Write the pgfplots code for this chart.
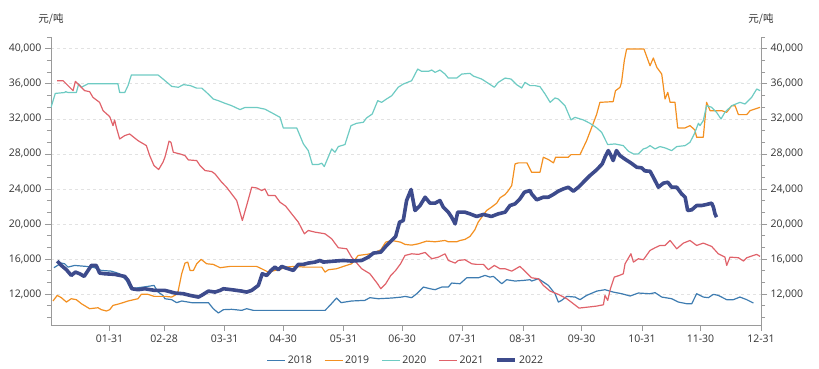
\documentclass[border=0pt]{standalone}
\usepackage{pgfplots}
\pgfplotsset{compat=1.18}
\usepackage{fontspec}
\setmainfont{Open Sans}
\newfontfamily\cjk{Noto Sans CJK SC}
\definecolor{c18}{HTML}{3E7CB1}
\definecolor{c19}{HTML}{F39021}
\definecolor{c20}{HTML}{6ECBC3}
\definecolor{c21}{HTML}{E0626A}
\definecolor{c22}{HTML}{3D4B8C}
\definecolor{axgray}{HTML}{9A9A9A}
\definecolor{labgray}{HTML}{333333}
\definecolor{gridgray}{HTML}{E2E2E2}
\begin{document}
\begin{tikzpicture}
\pgfplotsset{
  base/.style={
    scale only axis, width=710pt, height=288pt,
    xmin=0, xmax=364, ymin=8460, ymax=41340,
    ytick={12000,16000,20000,24000,28000,32000,36000,40000},
    minor ytick={9333.3,10666.7,13333.3,14666.7,17333.3,18666.7,21333.3,22666.7,25333.3,26666.7,29333.3,30666.7,33333.3,34666.7,37333.3,38666.7,41333.3},
    scaled y ticks=false,
    tick align=outside,
    major tick length=6pt, minor tick length=4pt,
    tick style={draw=axgray, line width=0.6pt},
    axis line style={draw=axgray, line width=0.8pt},
    ticklabel style={font=\fontsize{10.5}{12}\selectfont, text=labgray},
    /pgf/number format/1000 sep={,},
    /pgf/number format/assume math mode=true,
  }
}
\begin{axis}[base,
  axis x line*=bottom, axis y line*=left,
  xtick={30,58,89,119,150,180,211,242,272,303,333,364},
  xticklabels={01-31,02-28,03-31,04-30,05-31,06-30,07-31,08-31,09-30,10-31,11-30,12-31},
  ymajorgrids, grid style={dashed, draw=gridgray, line width=0.6pt},
  ylabel={\cjk 元/吨},
  every axis y label/.style={at={(rel axis cs:0,1)}, anchor=south, yshift=9pt, font=\fontsize{10.5}{12}\selectfont, text=labgray},
  legend style={at={(0.5,-0.122)}, anchor=center, draw=none, fill=none, font=\fontsize{10.5}{12}\selectfont, text=labgray, /tikz/every even column/.append style={column sep=10pt}},
  legend columns=5, legend cell align=left,
  legend image code/.code={\draw[#1] (0pt,0pt) -- (18pt,0pt);},
  line join=round,
]
\addplot[c18, line width=1.2pt] coordinates {
(1.5,15000)(5.3,15530)(7,15450)(8.7,15070)(12.1,15260)(18.1,15150)(22.4,15000)(25.8,14690)(30.9,14610)(35.2,14310)(38.6,13550)(40.8,12600)(44.6,12710)(49.7,12870)(52.8,12980)(54.9,12220)(57.4,11840)(58.4,11460)(61.9,11350)(64.4,11010)(67,11200)(72.1,11010)(80.7,11010)(83.2,10320)(85.8,9830)(88.4,10210)(92.6,10250)(97.8,10130)(100.3,10320)(103.7,10130)(109.7,10130)(122.5,10130)(140.5,10130)(143,10700)(146.4,11540)(148.7,11010)(154.1,11200)(160.9,11270)(163.5,11580)(167.8,11460)(174.7,11540)(179.8,11650)(181.5,11730)(184.9,11580)(187.5,12030)(190.9,12790)(194.3,12600)(196.9,12490)(200.3,12790)(203.7,12790)(205.4,13250)(209.7,13170)(213.1,13850)(219.1,13850)(222.5,14120)(225,13930)(226.8,14010)(231.1,13170)(233.6,13630)(237.9,13480)(242.2,13550)(245.6,13630)(246.4,13480)(249.9,13740)(255,12980)(258.4,12030)(260.1,11080)(261.8,11270)(264.4,11730)(268.7,11650)(271.2,11350)(274.6,11840)(279.8,12330)(284,12490)(288.2,12220)(292.6,12030)(296.9,11770)(301.1,12110)(307,12030)(309.7,12150)(313.1,11650)(318.2,11460)(321.6,11080)(325.9,10890)(328.5,10890)(331,12030)(334.4,11650)(337,11580)(339.6,11960)(342.1,11840)(346.4,11350)(349.8,11350)(353.2,11650)(356.7,11350)(360.1,10970)
};
\addlegendentry{2018}
\addplot[c19, line width=1.2pt] coordinates {
(1,11200)(3.2,11840)(5.3,11580)(7.9,11080)(10.4,11460)(13,11350)(15.6,10890)(19.8,10320)(24.1,10430)(25.8,10210)(28.4,10060)(30.1,10210)(31.8,10700)(35.2,10890)(39.5,11200)(44.6,11460)(46.3,11960)(49.7,11960)(52.8,11730)(58.4,11730)(61.9,11650)(64.9,12030)(67,14310)(68.7,15530)(70.1,15640)(71.3,14690)(73,14690)(74.7,15450)(77,15950)(79.8,15450)(83.2,15380)(86.7,15000)(91.8,15150)(101.2,15150)(105.4,15150)(108,14880)(111.4,14500)(114.8,14690)(118.3,14880)(120,15070)(125.1,15150)(130.2,15070)(138.8,15070)(140.5,14500)(142.2,14770)(146.4,14880)(149.9,15150)(154.1,15450)(157.5,16400)(161.8,16520)(165.3,16670)(169.1,17050)(171.6,17920)(174.7,18110)(179.2,17920)(181.5,17660)(184.9,17580)(188.3,17730)(192.6,18040)(196.9,17960)(202,18110)(203.7,17960)(208,17960)(209.7,18110)(212.2,18230)(214.8,18570)(217.3,19330)(219,20200)(223.3,21530)(225.8,21910)(228.5,22370)(230.2,22980)(232.8,23360)(234.5,23810)(236.2,24380)(237.9,26850)(239.6,26970)(244,26970)(246.4,25900)(250.7,25900)(252.4,27610)(255,27350)(257.6,26970)(258.7,27610)(265.2,27610)(266.6,27910)(271.2,27910)(274.6,29510)(277.1,30960)(279.7,32480)(281.4,33880)(288.2,33960)(289.4,35210)(291.7,35590)(292.5,36160)(293.9,38630)(295.1,39960)(304,39960)(307.1,38060)(308.8,38940)(310.6,37870)(313.1,37110)(314.8,34260)(316.2,35020)(317.4,33880)(319.9,33880)(321.3,30960)(325.1,30960)(327.6,31220)(330.1,30730)(331,29890)(334.4,29890)(336.1,33880)(337.9,32930)(343.8,32930)(346.4,32740)(349,33500)(350.7,33500)(352.4,32480)(356.7,32480)(358.4,32930)(360.9,33120)(363.5,33310)
};
\addlegendentry{2019}
\addplot[c20, line width=1.2pt] coordinates {
(0,33300)(2.2,34900)(7,35000)(7.5,35100)(8.7,35000)(13,35000)(14.2,36000)(15.6,35600)(19,36000)(34.3,36000)(35.2,35000)(37.8,35000)(39.5,35800)(41.2,37000)(54.9,37000)(57.4,36550)(61.9,35700)(65.3,35600)(67.9,35900)(71.3,35800)(74.7,35500)(77.3,35500)(79.8,35000)(83.2,34260)(85.8,34070)(89.2,33770)(92.6,33500)(96.9,33050)(99.5,33300)(105.4,33300)(109.7,33100)(113.9,32600)(117.4,32170)(119.1,30950)(126,30950)(129.4,29130)(131.9,28370)(134,26780)(137,26780)(138.8,26930)(140.1,26550)(143.9,28560)(145.6,28180)(147.3,28830)(150.7,29060)(153.8,31220)(156.7,31490)(160.1,31600)(161.8,32100)(164.7,32550)(167.5,34070)(169.5,33880)(172,34260)(174.7,34640)(178,35600)(180.6,35970)(184.9,36350)(188,37680)(190,37420)(193.5,37420)(195.2,37570)(196.9,37300)(199.4,37570)(202,37110)(203.7,36650)(208,36650)(210.6,37110)(214.8,37190)(216.5,36880)(220.8,36540)(224.2,36050)(227.3,35600)(229.3,36160)(232.8,36650)(235.8,36540)(238.7,35900)(241.3,35520)(243,36160)(245.6,35790)(248.1,35790)(250.7,35670)(253.3,34830)(255.9,33880)(258.4,34380)(260.1,34260)(263.5,33500)(266.6,31870)(268.6,32170)(272.9,31870)(276.3,31490)(279.8,30960)(282.3,30460)(285.4,29060)(289.1,29130)(293.4,28940)(296,28300)(298.6,27990)(301.1,27990)(303.7,28560)(305.4,28680)(307.1,28940)(309.7,28560)(312.2,28830)(314.8,28680)(318.2,28370)(320.8,28830)(325.1,28940)(327.6,29320)(329.8,30270)(331.9,31490)(332.7,31220)(334.4,31790)(336.1,33500)(338.7,33310)(341.2,32740)(343.5,31980)(345.5,32740)(349,33500)(353.2,33880)(355.8,33690)(359.2,34450)(361.8,35400)(363.5,35210)
};
\addlegendentry{2020}
\addplot[c21, line width=1.2pt] coordinates {
(3.2,36350)(6.2,36350)(7.9,35970)(11.3,35210)(12.5,36270)(14.7,35790)(17.3,35210)(19.8,35100)(21.5,34450)(24.9,33880)(26.7,32930)(30.1,32250)(31.8,31220)(32.6,31870)(33.5,31030)(35.2,29700)(37.8,30080)(40.3,30270)(44.6,29510)(48.9,28940)(50.6,27800)(52.8,26660)(55.2,26210)(57.4,27040)(58.4,27610)(59.3,28370)(60.5,29440)(61.5,29320)(62.7,28180)(66.1,27990)(68.7,27800)(70.4,27310)(74.7,27230)(76.4,26660)(79,26090)(82.4,25980)(84.1,25710)(87.5,24760)(90,24190)(92.6,23430)(95.2,22670)(98.1,20390)(100.3,22100)(102.9,24190)(105.4,24110)(108,23810)(109.7,24000)(111.4,23240)(114.9,23240)(117.4,22480)(120.3,22030)(123.4,21150)(126.8,20200)(129.9,18870)(131.9,19250)(135.4,19060)(140.5,18870)(143.9,18300)(147.3,17280)(151.6,17160)(154.1,16210)(159.3,14880)(163.5,14310)(167.4,13170)(169.1,12600)(171.6,13170)(174.2,14120)(176.7,14690)(179.2,15450)(181.5,16400)(184.9,16590)(188.3,16520)(191.8,16740)(195.2,16020)(198.6,16210)(202,16590)(203.7,15830)(207.2,15530)(208.8,15830)(212.2,15910)(215.7,15450)(218.2,15380)(221.7,15380)(224.2,14770)(227.3,15260)(230.2,14880)(232.8,14880)(236.2,14610)(240.4,15150)(243,14600)(246.4,13850)(249.9,13740)(252.4,12980)(255.9,12330)(260.1,11960)(264.4,11460)(267.8,10890)(270.7,10390)(275.5,10510)(279.8,10620)(283.2,10770)(284,11840)(285.4,11270)(286.8,12600)(288.8,13930)(291.4,14120)(293.4,14310)(294.3,15450)(297.3,16590)(298.6,15640)(301.1,16020)(303.7,15910)(307.1,16970)(309.7,17280)(312.2,17540)(314.8,17540)(317.4,18110)(320.8,17160)(324.2,17810)(327.6,18110)(331,17540)(334.4,17810)(338.7,17430)(342.1,16590)(345.5,16210)(346.4,15260)(348.1,16210)(352.4,16140)(355,15760)(356.7,16140)(360.1,16400)(361.8,16520)(363.5,16290)
};
\addlegendentry{2021}
\addplot[c22, line width=3.6pt] coordinates {
(3.2,15760)(5.3,15260)(7.9,14770)(10.4,14120)(12.5,14500)(14.7,14310)(17,14010)(19,14690)(20.7,15260)(23.2,15260)(24.9,14390)(27.5,14310)(32.6,14240)(37.8,14010)(39.5,13550)(41.5,12600)(44.6,12490)(48,12600)(53.2,12410)(58.4,12410)(63.6,12110)(67.8,12030)(71.3,11840)(75.6,11650)(77.2,11840)(80.7,12330)(84.1,12220)(86.7,12410)(88.4,12600)(92.6,12490)(97.8,12330)(100.3,12220)(102.9,12410)(106.3,12980)(108.3,14310)(110.6,14120)(112.8,14690)(114.8,15070)(116.6,14770)(118.3,15150)(120,15000)(124.2,14690)(126.8,15380)(129.4,15380)(131.9,15530)(135.4,15640)(137.9,15830)(139.6,15640)(145.6,15760)(149.9,15830)(154.1,15760)(159.3,15830)(162.7,16210)(165.3,16670)(169.1,16780)(171.6,17430)(173.8,17920)(176.7,18570)(178.7,20200)(180.6,20390)(182.3,22670)(184.6,23930)(186.6,21530)(189.2,22100)(191.8,23050)(194.3,22370)(196.9,22370)(199.4,22670)(201.1,21910)(203.7,21340)(205.4,20770)(207.2,20010)(208.5,21340)(212.2,21340)(214.8,21150)(218.2,20850)(221.7,21080)(225.8,20850)(229.3,21150)(232.8,21340)(235.3,22100)(237.9,22290)(240.4,22860)(242.7,23620)(245.6,23810)(246.4,23430)(249,22750)(252.4,23050)(255,23050)(257.5,23360)(260.1,23740)(262.7,24000)(265.2,24190)(267.8,23740)(270.4,24190)(272.9,24760)(276.3,25520)(279.7,26170)(282.6,26850)(284,27610)(285.7,28370)(287.1,27800)(288.2,27230)(289.9,28370)(291.7,27800)(294.1,27420)(297.5,26930)(300.3,26470)(302.8,26400)(304.5,26050)(307.1,26020)(308.8,25330)(311.4,24190)(313.9,24650)(316.2,24760)(318.2,24190)(320.8,24190)(323.3,23430)(325.1,23050)(326.4,21530)(328.5,21610)(331,22100)(333.6,22100)(336.1,22220)(338.7,22370)(339.6,21910)(340.4,21150)(341.2,20770)
};
\addlegendentry{2022}
\end{axis}
\begin{axis}[base,
  axis y line*=right, axis x line=none,
  ylabel={\cjk 元/吨},
  every axis y label/.style={at={(rel axis cs:1,1)}, anchor=south, yshift=9pt, font=\fontsize{10.5}{12}\selectfont, text=labgray},
]
\addplot[draw=none] coordinates {(0,10000)};
\end{axis}
\pgfresetboundingbox
\path[use as bounding box] (-51pt,-44pt) rectangle (768pt,325pt);
\end{tikzpicture}
\end{document}
